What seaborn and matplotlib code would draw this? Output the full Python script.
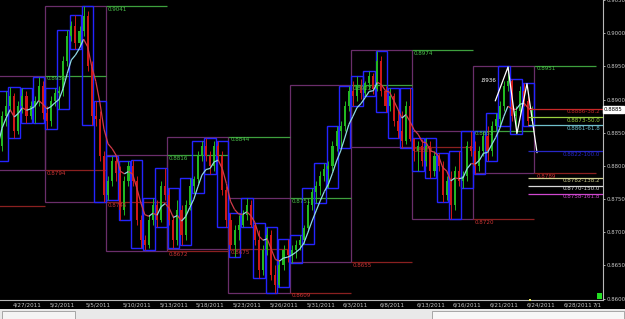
import numpy as np
import pandas as pd
import matplotlib
matplotlib.use("Agg")
import matplotlib.pyplot as plt
from matplotlib.patches import Rectangle
from matplotlib.collections import LineCollection
from matplotlib.transforms import blended_transform_factory
import seaborn as sns

# ---------------- data ----------------
first_day = -1          # 4/26/2011 ; day 0 = 4/27/2011 (trading-day index)
bars_per_day = 3
first_open = 0.88230

bar_high = [
    0.88380, 0.88830, 0.89130,  0.89190, 0.89100, 0.88980,  0.89175, 0.89130, 0.88980,
    0.89055, 0.89340, 0.89280,  0.88905, 0.89055, 0.89175,  0.89205, 0.89655, 0.90045,
    0.90180, 0.90270, 0.90105,  0.90405, 0.90330, 0.89580,  0.88980, 0.88830, 0.88230,
    0.87855, 0.88155, 0.88155,  0.88005, 0.87855, 0.88080,  0.88095, 0.87855, 0.87255,
    0.86955, 0.87255, 0.87510,  0.87480, 0.87780, 0.87975,  0.87675, 0.87255, 0.87480,
    0.87405, 0.87480, 0.87825,  0.87855, 0.88230, 0.88380,  0.88425, 0.88230, 0.88380,
    0.88380, 0.88230, 0.87705,  0.87285, 0.87105, 0.87255,  0.87330, 0.87510, 0.87480,
    0.87135, 0.87030, 0.86805,  0.87075, 0.87030, 0.86505,  0.86580, 0.86805, 0.86895,
    0.86805, 0.86880, 0.86955,  0.87105, 0.87480, 0.87675,  0.87780, 0.87930, 0.88050,
    0.88080, 0.88380, 0.88605,  0.88680, 0.88980, 0.89205,  0.89280, 0.89355, 0.89310,
    0.89280, 0.89430, 0.89400,  0.89730, 0.89655, 0.89205,  0.89175, 0.89100, 0.88830,
    0.88830, 0.88980, 0.89175,  0.88425, 0.88380, 0.88410,  0.88425, 0.88380, 0.88230,
    0.88200, 0.88080, 0.87855,  0.87930, 0.88005, 0.88230,  0.87930, 0.88380, 0.88530,
    0.88380, 0.88305, 0.88530,  0.88605, 0.88680, 0.88800,  0.88980, 0.89280, 0.89505,
    0.89310, 0.88905, 0.89205,  0.89250, 0.89055, 0.88905,
]
bar_low = [
    0.88080, 0.88230, 0.88605,  0.88830, 0.88425, 0.88485,  0.88800, 0.88650, 0.88710,
    0.88650, 0.88905, 0.88710,  0.88560, 0.88605, 0.88905,  0.88860, 0.89055, 0.89505,
    0.89880, 0.89760, 0.89805,  0.89955, 0.89430, 0.88620,  0.88605, 0.88080, 0.87450,
    0.87480, 0.87705, 0.87780,  0.87180, 0.87255, 0.87705,  0.87705, 0.87105, 0.86760,
    0.86730, 0.86760, 0.87105,  0.87075, 0.87150, 0.87480,  0.87105, 0.86760, 0.86805,
    0.86805, 0.86880, 0.87330,  0.87585, 0.87750, 0.88080,  0.88080, 0.87885, 0.87930,
    0.88080, 0.87555, 0.87075,  0.86730, 0.86625, 0.86880,  0.87075, 0.87180, 0.87075,
    0.86805, 0.86310, 0.86355,  0.86655, 0.86280, 0.86085,  0.86175, 0.86430, 0.86550,
    0.86535, 0.86610, 0.86730,  0.86820, 0.87000, 0.87330,  0.87435, 0.87555, 0.87780,
    0.87675, 0.87930, 0.88230,  0.88275, 0.88530, 0.88830,  0.88905, 0.88980, 0.89010,
    0.89055, 0.89160, 0.89085,  0.89130, 0.89055, 0.88815,  0.88830, 0.88605, 0.88425,
    0.88275, 0.88335, 0.88380,  0.88080, 0.87930, 0.88005,  0.88005, 0.87825, 0.87855,
    0.87930, 0.87450, 0.87480,  0.87195, 0.87330, 0.87705,  0.87675, 0.87780, 0.88155,
    0.87885, 0.87930, 0.88155,  0.88080, 0.88155, 0.88530,  0.88605, 0.88830, 0.89130,
    0.88680, 0.88485, 0.88755,  0.88905, 0.88605, 0.88650,
]
bar_close = [
    0.88305, 0.88755, 0.88905,  0.89055, 0.88530, 0.88905,  0.89055, 0.88755, 0.88905,
    0.88980, 0.89205, 0.88800,  0.88680, 0.88980, 0.89100,  0.89130, 0.89580, 0.89955,
    0.90105, 0.89850, 0.90030,  0.90255, 0.89505, 0.88755,  0.88710, 0.88155, 0.87555,
    0.87780, 0.88080, 0.87900,  0.87330, 0.87780, 0.88005,  0.87780, 0.87180, 0.86880,
    0.86805, 0.87180, 0.87405,  0.87180, 0.87705, 0.87555,  0.87180, 0.86880, 0.87330,
    0.86955, 0.87405, 0.87705,  0.87810, 0.88155, 0.88305,  0.88155, 0.88005, 0.88305,
    0.88155, 0.87630, 0.87180,  0.86805, 0.87030, 0.87105,  0.87255, 0.87405, 0.87105,
    0.86880, 0.86430, 0.86730,  0.86955, 0.86355, 0.86205,  0.86505, 0.86730, 0.86655,
    0.86730, 0.86805, 0.86880,  0.87060, 0.87405, 0.87600,  0.87705, 0.87855, 0.87960,
    0.88005, 0.88305, 0.88530,  0.88605, 0.88905, 0.89130,  0.89055, 0.89205, 0.89100,
    0.89250, 0.89355, 0.89160,  0.89580, 0.89130, 0.88905,  0.89055, 0.88680, 0.88530,
    0.88380, 0.88905, 0.88410,  0.88230, 0.88305, 0.88080,  0.88305, 0.87930, 0.88155,
    0.88005, 0.87555, 0.87780,  0.87405, 0.87930, 0.87780,  0.87855, 0.88305, 0.88230,
    0.88005, 0.88230, 0.88455,  0.88230, 0.88605, 0.88710,  0.88905, 0.89205, 0.89280,
    0.88755, 0.88830, 0.89130,  0.88980, 0.88680, 0.88845,
]

# weekly ranges (week start as trading-day index, 5 sessions each)
week_start = [-2, 3, 8, 13, 18, 23, 28, 33, 38]
week_high = [0.8936, 0.9041, 0.8816, 0.8844, 0.8751, 0.8922, 0.8974, 0.8853, 0.8951]
week_low = [0.8794, 0.8745, 0.8672, 0.8675, 0.8609, 0.8655, 0.8828, 0.8720, 0.8789]
week_before_low = 0.8739

# Fibonacci levels on the right
fib_pct = [38.2, 50.0, 61.8, 100.0, 138.2, 150.0, 161.8]
fib_price = [0.8886, 0.8873, 0.8861, 0.8822, 0.8782, 0.8770, 0.8758]

# zigzag (day position, price)
zig_day = [39.8, 40.84, 41.57, 42.39, 43.21]
zig_price = [0.8898, 0.8949, 0.8849, 0.8924, 0.8820]
zig_note = ".8936"
zig_note_day, zig_note_price = 38.6, 0.8928

last_price = 0.8885

price_ticks = [0.8600, 0.8650, 0.8700, 0.8750, 0.8800, 0.8850, 0.8900, 0.8950, 0.9000, 0.9050]
date_days = [0, 3, 6, 9, 12, 15, 18, 21, 24, 27, 30, 33, 36, 39, 42, 45]
date_labels = ["4/27/2011", "5/2/2011", "5/5/2011", "5/10/2011", "5/13/2011", "5/18/2011",
               "5/23/2011", "5/26/2011", "5/31/2011", "6/3/2011", "6/8/2011", "6/13/2011",
               "6/16/2011", "6/21/2011", "6/24/2011", "6/28/2011"]

# ---------------- styles ----------------
fib_colors = ["#c82828", "#9ad040", "#70c0cc", "#2828c8", "#d0d090", "#d8d8d8", "#d048d0"]
UP, DOWN = "#22b822", "#d01818"
BOX_BLUE = "#2424ff"
BOX_PURPLE = "#6a2e6a"
LINE_GREEN, TEXT_GREEN = "#3ea03e", "#4cc44c"
LINE_RED, TEXT_RED = "#8a2020", "#cc3434"
FS = 4.1

sns.set_theme(style="dark", rc={"axes.facecolor": "black", "figure.facecolor": "black"})
plt.rcParams["font.family"] = ["DejaVu Sans"]

df = pd.DataFrame({"high": bar_high, "low": bar_low, "close": bar_close})
n = len(df)
df["open"] = [first_open] + bar_close[:-1]
df["day"] = first_day + np.arange(n) // bars_per_day
df["x"] = df["day"] + (np.arange(n) % bars_per_day + 0.5) / bars_per_day
df["up"] = df["close"] >= df["open"]

fig = plt.figure(figsize=(6.25, 3.19), dpi=100)
fig.patch.set_facecolor("black")
ax = fig.add_axes([0, 19 / 319, 603 / 625, 300 / 319])
ax.set_facecolor("black")
XL, XR = -0.662, 48.6
ax.set_xlim(XL, XR)
ax.set_ylim(0.8598, 0.9048)

# weekly purple boxes
for ws, hi, lo in zip(week_start, week_high, week_low):
    ax.add_patch(Rectangle((ws, lo), 5, hi - lo, fill=False, ec=BOX_PURPLE, lw=0.9, zorder=1))

# previous-week high / low lines
ax.hlines(week_before_low, week_start[0], week_start[0] + 5, color=LINE_RED, lw=0.9, zorder=1)
for k, (hi, lo) in enumerate(zip(week_high, week_low)):
    s = week_start[k] + 5
    e = min(s + 5, XR)
    ax.hlines(hi, s, e, color=LINE_GREEN, lw=0.9, zorder=1)
    ax.hlines(lo, s, e, color=LINE_RED, lw=0.9, zorder=1)
    ax.text(s + 0.15, hi - 0.0001, f"{hi:.4f}", color=TEXT_GREEN, fontsize=FS,
            va="top", ha="left", zorder=6)
    ax.text(s + 0.15, lo - 0.0001, f"{lo:.4f}", color=TEXT_RED, fontsize=FS,
            va="top", ha="left", zorder=6)

# daily blue boxes
daily = df.groupby("day").agg(high=("high", "max"), low=("low", "min")).reset_index()
for _, r in daily.iterrows():
    ax.add_patch(Rectangle((r["day"] + 0.03, r["low"]), 0.94, r["high"] - r["low"],
                           fill=False, ec=BOX_BLUE, lw=1.0, zorder=2))

# candles
cols = np.where(df["up"], UP, DOWN)
ax.vlines(df["x"], df["low"], df["high"], colors=cols, lw=0.7, zorder=3)
body_lo = np.minimum(df["open"], df["close"])
body_h = np.maximum(np.abs(df["close"] - df["open"]), 0.00005)
ax.bar(df["x"], body_h, bottom=body_lo, width=0.17, color=cols, linewidth=0, zorder=3)

# smooth moving average, coloured by direction
ma = df["close"].ewm(span=6).mean().to_numpy()
pts = np.column_stack([df["x"].to_numpy(), ma])
segs = np.stack([pts[:-1], pts[1:]], axis=1)
seg_cols = np.where(np.diff(ma) >= 0, "#8fd8e6", "#d23a4a")
ax.add_collection(LineCollection(segs, colors=seg_cols, lw=0.9, zorder=4))

# zigzag
sns.lineplot(x=zig_day, y=zig_price, ax=ax, color="white", lw=0.9, zorder=5,
             sort=False, estimator=None)
ax.text(zig_note_day, zig_note_price, zig_note, color="white", fontsize=FS,
        va="center", ha="left", zorder=6)

# fib levels
for pct, p, c in zip(fib_pct, fib_price, fib_colors):
    ax.hlines(p, 42.5, XR, color=c, lw=0.9, zorder=5)
    ax.text(XR - 0.25, p - 0.00008, f"{p:.4f}-{pct:.1f}", color=c, fontsize=FS,
            va="top", ha="right", zorder=6)

# axes cosmetics
for s in ["top", "left"]:
    ax.spines[s].set_visible(False)
for s in ["right", "bottom"]:
    ax.spines[s].set_color("#b8b8b8")
    ax.spines[s].set_linewidth(0.8)
ax.grid(False)
ax.yaxis.tick_right()
ax.set_yticks(price_ticks)
ax.set_yticklabels([f"{v:.4f}" for v in price_ticks])
ax.tick_params(axis="y", colors="#c8c8c8", labelsize=3.9, length=1.5, width=0.6, pad=0.8)
ax.set_xticks([d + 0.35 for d in date_days])
ax.set_xticklabels(date_labels)
ax.tick_params(axis="x", colors="#c8c8c8", labelsize=FS, length=0, pad=2)
for lab in ax.get_xticklabels():
    lab.set_horizontalalignment("left")
trans = blended_transform_factory(ax.transData, ax.transAxes)
ax.text(XR - 0.15, -0.0067, "7/1", color="#c8c8c8", fontsize=FS, ha="right", va="top",
        transform=trans, clip_on=False)
# current-bar marker on the time axis
ax.add_patch(Rectangle((42.55, -0.004), 0.2, 0.008, transform=trans, fc="#f0f060",
                       ec="none", clip_on=False, zorder=7))

# last price tag
fig.text(604 / 625, ax.transData.transform((0, last_price))[1] / fig.bbox.height,
         f"{last_price:.4f}", fontsize=3.9, color="black", va="center", ha="left",
         bbox=dict(boxstyle="square,pad=0.15", fc="white", ec="white"))

# bottom status strip
fig.patches.append(Rectangle((0, 0), 1, 10 / 319, transform=fig.transFigure,
                             fc="#e9e9e9", ec="none", zorder=0))
fig.patches.append(Rectangle((2 / 625, 0), 73 / 625, 8.5 / 319, transform=fig.transFigure,
                             fc="#f4f4f4", ec="#9a9a9a", lw=0.6, zorder=1))
fig.patches.append(Rectangle((432 / 625, 0), 192 / 625, 8.5 / 319, transform=fig.transFigure,
                             fc="#f7f7f7", ec="#9a9a9a", lw=0.6, zorder=1))
fig.patches.append(Rectangle((597 / 625, 20 / 319), 5 / 625, 6 / 319, transform=fig.transFigure,
                             fc="#22dd22", ec="none", zorder=3))

fig.savefig("out.png", dpi=100, facecolor="black")
